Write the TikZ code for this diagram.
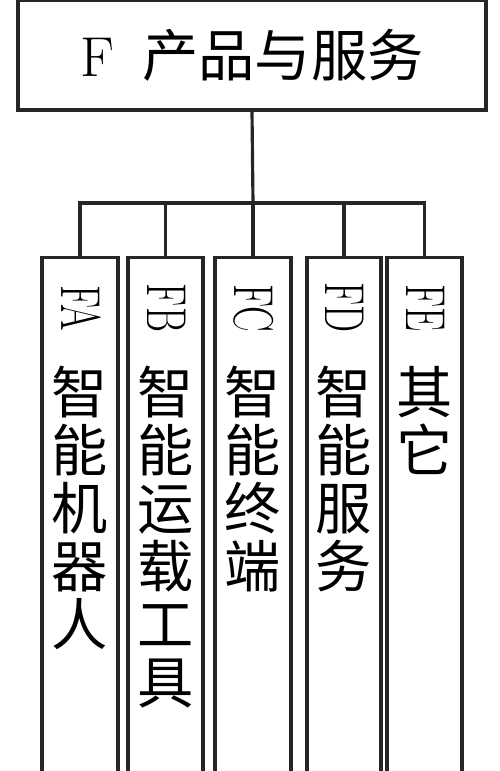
\documentclass[tikz,border=0pt]{standalone}
\usepackage{fontspec}
\newfontfamily\cjk{Noto Sans CJK SC}
\usepackage{tikz}
\usetikzlibrary{calc}
\tikzstyle{tsBox} = [
    rectangle,
    draw=black!85,
    line width=1.8pt,
    inner sep=0pt
]
\tikzstyle{tsColumn} = [
    tsBox,
    anchor=north,
    minimum width=1.5cm,
    minimum height=10.6cm
]
\tikzstyle{tsCode} = [
    font=\fontsize{32}{34}\selectfont,
    rotate=-90,
    inner sep=0pt
]
\tikzstyle{tsChars} = [
    font=\cjk\fontsize{32}{33}\selectfont,
    align=center,
    anchor=north,
    inner sep=0pt
]
\tikzstyle{tsLink} = [
    draw=black!85,
    line width=1.8pt
]
\begin{document}
\begin{tikzpicture}
        \path[use as bounding box, clip] (0,0) rectangle (10,-15.42);

        % Define nodes
        \node[  tsBox,
                minimum width=9.36cm,
                minimum height=2.2cm,
                font=\fontsize{32}{33}\selectfont] (fp) at (5.04,-1.1)
                {F\hspace{0.5em}{\cjk 产品与服务}};

        \node[tsColumn, minimum width=1.52cm] (fa) at (1.6,-5.12) {};
        \node[tsColumn, minimum width=1.5cm]  (fb) at (3.31,-5.12) {};
        \node[tsColumn, minimum width=1.52cm] (fc) at (5.06,-5.12) {};
        \node[tsColumn, minimum width=1.48cm] (fd) at (6.88,-5.12) {};
        \node[tsColumn, minimum width=1.5cm]  (fe) at (8.49,-5.12) {};

        \node[tsCode] (fa-code) at ($(fa.north)+(0.02,-1.04)$) {\scalebox{0.68}[1]{FA}};
        \node[tsCode] (fb-code) at ($(fb.north)+(0.02,-1.04)$) {\scalebox{0.68}[1]{FB}};
        \node[tsCode] (fc-code) at ($(fc.north)+(0.02,-1.04)$) {\scalebox{0.68}[1]{FC}};
        \node[tsCode] (fd-code) at ($(fd.north)+(0.02,-1.04)$) {\scalebox{0.68}[1]{FD}};
        \node[tsCode] (fe-code) at ($(fe.north)+(0.02,-1.04)$) {\scalebox{0.68}[1]{FE}};

        \node[tsChars] (fa-text) at ($(fa.north)+(0,-2.2)$) {智\\能\\机\\器\\人};
        \node[tsChars] (fb-text) at ($(fb.north)+(0,-2.2)$) {智\\能\\运\\载\\工\\具};
        \node[tsChars] (fc-text) at ($(fc.north)+(0,-2.2)$) {智\\能\\终\\端};
        \node[tsChars] (fd-text) at ($(fd.north)+(0,-2.2)$) {智\\能\\服\\务};
        \node[tsChars] (fe-text) at ($(fe.north)+(0,-2.2)$) {其\\它};

        % Connectors
        \coordinate (bus) at (5.06,-4.06);
        \draw[tsLink] (fp.south) -- (bus);
        \draw[tsLink] (fa.north) |- (bus) -| (fe.north);
        \draw[tsLink] (fb.north) |- (bus);
        \draw[tsLink] (fd.north) |- (bus);
        \draw[tsLink] (fc.north) -- (bus);

    \end{tikzpicture}
\end{document}
